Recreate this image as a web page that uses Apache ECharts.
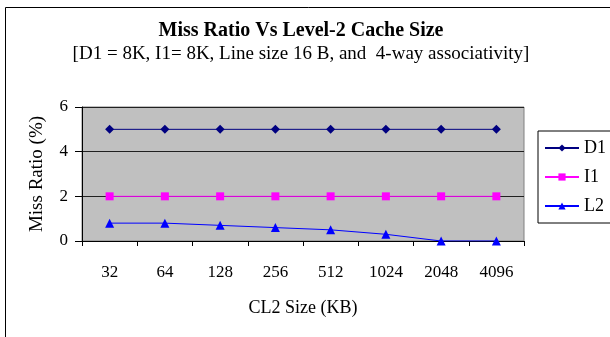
<!DOCTYPE html>
<html><head><meta charset="utf-8">
<script src="https://cdn.jsdelivr.net/npm/echarts@6/dist/echarts.min.js"></script>
<style>html,body{margin:0;padding:0;background:#fff}#c{width:610px;height:337px}</style>
</head><body><div id="c"></div>
<script>
const categories = ['32','64','128','256','512','1024','2048','4096'];
const d1 = [5,5,5,5,5,5,5,5];
const i1 = [2,2,2,2,2,2,2,2];
const l2 = [0.8,0.8,0.7,0.6,0.5,0.3,0,0];
const yTicks = {min:0, max:6, interval:2};
const F = 'Liberation Serif';
const chart = echarts.init(document.getElementById('c'), null, {renderer:'canvas'});
chart.setOption({
  animation:false,
  backgroundColor:'#fff',
  graphic:[{type:'rect', shape:{x:5.5,y:7.5,width:700,height:400}, style:{fill:'none',stroke:'#000',lineWidth:1}, silent:true}],
  title:{text:'Miss Ratio Vs Level-2 Cache Size', subtext:'[D1 = 8K, I1= 8K, Line size 16 B, and  4-way associativity]',
    left:296, textAlign:'center', top:16, itemGap:4,
    textStyle:{fontFamily:F,fontSize:20,fontWeight:'bold',color:'#000'},
    subtextStyle:{fontFamily:F,fontSize:19,color:'#000'}},
  legend:{orient:'vertical', left:538, top:131, width:72, height:86, padding:[8,6,8,6], itemGap:11,
    borderColor:'#000', borderWidth:1, itemWidth:34, itemHeight:9,
    textStyle:{fontFamily:F,fontSize:18,color:'#000'},
    data:['D1','I1','L2']},
  grid:{left:82,right:86,top:107,bottom:96,show:true,backgroundColor:'#c0c0c0',borderColor:'#808080',borderWidth:1},
  xAxis:{type:'category', data:categories, boundaryGap:true,
    name:'CL2 Size (KB)', nameLocation:'middle', nameGap:58,
    nameTextStyle:{fontFamily:F,fontSize:18,color:'#000'},
    axisLine:{lineStyle:{color:'#000'}},
    axisTick:{show:true,alignWithLabel:false,length:5,lineStyle:{color:'#000'}},
    axisLabel:{fontFamily:F,fontSize:17,color:'#000',margin:23}},
  yAxis:{type:'value', min:yTicks.min, max:yTicks.max, interval:yTicks.interval,
    name:'Miss Ratio (%)', nameLocation:'middle', nameGap:35,
    nameTextStyle:{fontFamily:F,fontSize:19,color:'#000'},
    axisLine:{show:true,lineStyle:{color:'#000'}},
    axisTick:{show:true,length:7,lineStyle:{color:'#000'}},
    axisLabel:{fontFamily:F,fontSize:17,color:'#000',margin:14},
    splitLine:{show:true,lineStyle:{color:'#202020',width:1}}},
  series:[
    {name:'D1',type:'line',data:d1,symbol:'diamond',symbolSize:9,itemStyle:{color:'#000080'},lineStyle:{color:'#000080',width:1}},
    {name:'I1',type:'line',data:i1,symbol:'rect',symbolSize:8,itemStyle:{color:'#ff00ff'},lineStyle:{color:'#ff00ff',width:1}},
    {name:'L2',type:'line',data:l2,symbol:'triangle',symbolSize:9,itemStyle:{color:'#0000ff'},lineStyle:{color:'#0000ff',width:1}}
  ]
});
</script></body></html>
